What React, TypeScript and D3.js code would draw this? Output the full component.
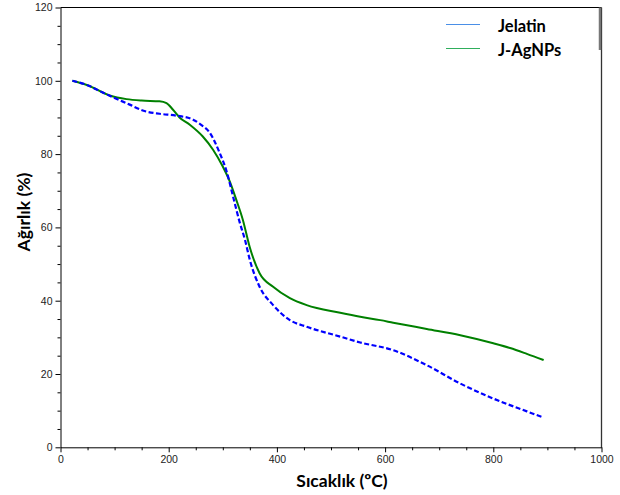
import { useEffect, useRef } from 'react'
import * as d3 from 'd3'

// Temperature (ºC) and weight (%)
const jelatinT = [22, 50, 78, 100, 128, 152, 183, 214, 245, 260, 276, 294, 307, 319, 331, 341, 350, 368, 393, 424, 455, 517, 554, 615, 677, 739, 800, 862, 893]
const jelatinW = [100, 98.8, 96.8, 95.3, 93.5, 91.9, 91.0, 90.5, 89.4, 88.0, 85.8, 80.4, 75.3, 68.4, 61.5, 56.6, 51.1, 43.8, 38.8, 34.7, 32.9, 30.2, 28.6, 26.5, 22.4, 17.4, 13.3, 9.8, 8.1]

const agnpT = [22, 50, 91, 122, 150, 183, 196, 208, 220, 239, 263, 282, 300, 313, 325, 337, 350, 368, 393, 424, 455, 517, 554, 591, 615, 677, 739, 800, 831, 862, 893]
const agnpW = [100, 98.8, 96.0, 95.0, 94.6, 94.4, 93.9, 92.1, 90.0, 88.0, 84.8, 81.2, 76.6, 72.5, 67.5, 62.1, 54.5, 47.5, 43.8, 40.7, 38.8, 36.7, 35.6, 34.7, 34.0, 32.3, 30.6, 28.4, 27.1, 25.5, 23.8]

const xTicks = [0, 200, 400, 600, 800, 1000]
const yTicks = [0, 20, 40, 60, 80, 100, 120]

const seriesNames = ['Jelatin', 'J-AgNPs']

const W = 620
const H = 495

export default function App() {
  const svgRef = useRef<SVGSVGElement>(null)

  useEffect(() => {
    if (!svgRef.current) return
    const svg = d3.select(svgRef.current)
    svg.selectAll('*').remove()

    const x = d3.scaleLinear().domain([0, 1000]).range([60.5, 601.5])
    const y = d3.scaleLinear().domain([0, 120]).range([447.3, 7.5])
    const tickFont = '"Liberation Sans", Arial, sans-serif'
    const titleFont = 'Lato, "Open Sans", sans-serif'

    // frame: top and right
    svg.append('line').attr('x1', 60.5).attr('x2', 601.5).attr('y1', 7.5).attr('y2', 7.5)
      .attr('stroke', '#000').attr('stroke-width', 1)
    svg.append('line').attr('x1', 601.5).attr('x2', 601.5).attr('y1', 7.5).attr('y2', 447.5)
      .attr('stroke', '#333').attr('stroke-width', 1.3)

    // minor ticks
    const minorX = d3.range(0, 1001, 50).filter(v => !xTicks.includes(v))
    const minorY = d3.range(0, 121, 5).filter(v => !yTicks.includes(v))

    svg.append('g').attr('transform', `translate(0,${y(0)})`)
      .call(d3.axisBottom(x).tickValues(minorX).tickSize(3).tickSizeOuter(0).tickFormat(() => ''))
      .call(ax => ax.select('.domain').remove())
    svg.append('g').attr('transform', `translate(${x(0)},0)`)
      .call(d3.axisLeft(y).tickValues(minorY).tickSize(3).tickSizeOuter(0).tickFormat(() => ''))
      .call(ax => ax.select('.domain').remove())

    // X axis
    svg.append('g').attr('transform', `translate(0,${y(0)})`)
      .call(d3.axisBottom(x).tickValues(xTicks).tickSize(5).tickSizeOuter(0).tickPadding(3)
        .tickFormat(d3.format('d')))
      .call(ax => ax.select('.domain').attr('stroke', '#000'))
      .selectAll('text')
      .attr('fill', '#222').attr('font-size', '10.5px').attr('font-family', tickFont)

    // Y axis
    svg.append('g').attr('transform', `translate(${x(0)},0)`)
      .call(d3.axisLeft(y).tickValues(yTicks).tickSize(5).tickSizeOuter(0).tickPadding(3)
        .tickFormat(d3.format('d')))
      .call(ax => ax.select('.domain').attr('stroke', '#000'))
      .selectAll('text')
      .attr('fill', '#222').attr('font-size', '10.5px').attr('font-family', tickFont)

    // curves
    const line = d3.line<[number, number]>()
      .x(d => x(d[0])).y(d => y(d[1]))
      .curve(d3.curveMonotoneX)

    svg.append('path')
      .attr('d', line(agnpT.map((t, i) => [t, agnpW[i]]))!)
      .attr('fill', 'none').attr('stroke', '#008000').attr('stroke-width', 2)

    svg.append('path')
      .attr('d', line(jelatinT.map((t, i) => [t, jelatinW[i]]))!)
      .attr('fill', 'none').attr('stroke', '#0000ff').attr('stroke-width', 2.2)
      .attr('stroke-dasharray', '5,2.5')

    // axis titles
    svg.append('text')
      .attr('x', 342).attr('y', 487)
      .attr('text-anchor', 'middle')
      .attr('font-family', titleFont).attr('font-weight', 'bold').attr('font-size', '17.5px')
      .attr('fill', '#000')
      .text('Sıcaklık (ºC)')

    svg.append('text')
      .attr('transform', 'rotate(-90)')
      .attr('x', -212).attr('y', 30)
      .attr('text-anchor', 'middle')
      .attr('font-family', titleFont).attr('font-weight', 'bold').attr('font-size', '17.5px')
      .attr('fill', '#000')
      .text('Ağırlık (%)')

    // legend
    svg.append('line').attr('x1', 600).attr('x2', 600).attr('y1', 7.5).attr('y2', 50)
      .attr('stroke', '#777').attr('stroke-width', 2.5)
    const legendColors = ['#4a8fe7', '#2fae5c']
    seriesNames.forEach((name, i) => {
      const ly = 24.5 + i * 24
      svg.append('line').attr('x1', 446).attr('x2', 480).attr('y1', ly).attr('y2', ly)
        .attr('stroke', legendColors[i]).attr('stroke-width', 1.2)
      svg.append('text')
        .attr('x', 498).attr('y', ly + 7)
        .attr('font-family', titleFont).attr('font-weight', 'bold').attr('font-size', '16.5px')
        .attr('fill', '#000')
        .text(name)
    })
  }, [])

  return (
    <div style={{ position: 'absolute', left: 0, top: 0 }}>
      <svg ref={svgRef} width={W} height={H} style={{ display: 'block', background: '#fff' }} />
    </div>
  )
}
